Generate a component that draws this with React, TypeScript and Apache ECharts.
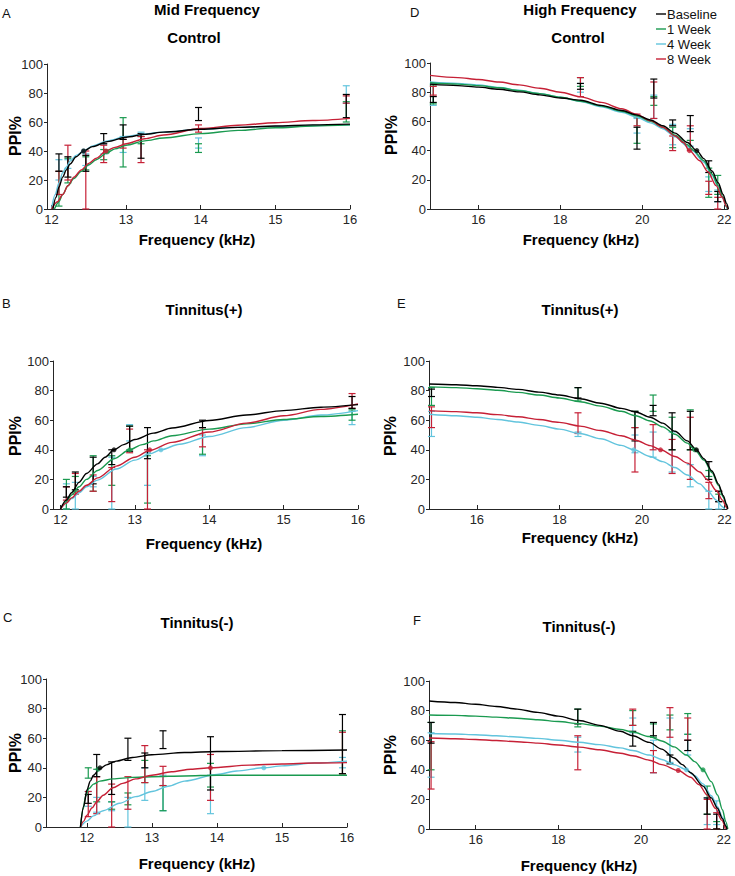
import React, { useEffect, useRef } from "react";
import * as echarts from "echarts";

// ---------- Data ----------
const seriesNames = ["Baseline", "1 Week", "4 Week", "8 Week"];
const midTicks = [12, 13, 14, 15, 16];
const highTicks = [16, 18, 20, 22];

// Panel A: Mid Frequency, Control
const A_freq = [12.1, 12.22, 12.46, 12.7, 12.96, 13.2, 13.97, 15.95];
const A_base_bars = [[26, 38], [22, 36], [26, 37], [45, 52], [48, 58], [35, 52], [61, 70], [63, 79]];
const A_w1_bars = [[2, 26], [18, 35], [27, 36], [34, 41], [29, 63], [45, 50], [39, 45], [60, 74]];
const A_w4_bars = [[20, 34], [28, 34], [30, 38], [38, 45], [39, 50], [50, 53], [42, 49], [73, 85]];
const A_w8_bars = [[10, 26], [20, 44], [0, 40], [32, 44], [42, 48], [32, 50], [53, 58], [73, 78]];
const A_base_curve = [[12.02, 0], [12.06, 8], [12.1, 15], [12.15, 22], [12.2, 27], [12.25, 31], [12.33, 36], [12.43, 40], [12.55, 43], [12.75, 46.5], [13, 49.5], [13.25, 51.5], [13.5, 53], [14, 55], [14.5, 56.3], [15, 57.2], [15.5, 58], [16, 58.5]];
const A_w1_curve = [[12.04, 0], [12.1, 5], [12.15, 10], [12.22, 16], [12.3, 21], [12.4, 26], [12.5, 30.5], [12.6, 34], [12.75, 39], [12.85, 41.5], [13, 44], [13.25, 47], [13.5, 49], [14, 52], [14.5, 54.2], [15, 56], [15.5, 57.2], [16, 58]];
const A_w4_curve = [[12.0, 0], [12.05, 10], [12.1, 18], [12.15, 25], [12.2, 29], [12.25, 33], [12.33, 37], [12.43, 40], [12.55, 43.5], [12.75, 47], [13, 50], [13.2, 51.5], [13.5, 53], [14, 55], [14.5, 56.3], [15, 57], [15.5, 57.6], [16, 58]];
const A_w8_curve = [[12.0, 0], [12.08, 5], [12.15, 10], [12.22, 16], [12.3, 22], [12.4, 27], [12.5, 31.5], [12.6, 35], [12.73, 40], [12.85, 42.5], [13, 45], [13.25, 48.5], [13.5, 51], [14, 55.5], [14.5, 57.8], [15, 59.5], [15.5, 61], [16, 62.5]];
const A_dots = [[12.43, 40], [12.75, 39.5], [12.43, 40], [12.73, 40]];

// Panel B: Mid Frequency, Tinnitus(+)
const B_freq = [12.08, 12.2, 12.44, 12.69, 12.93, 13.17, 13.91, 15.92];
const B_base_bars = [[8, 15], [13, 25], [17, 35], [30, 40], [39, 56], [34, 55], [55, 60], [68, 76]];
const B_w1_bars = [[0, 20], [12, 22], [12, 36], [16, 36], [40, 56], [4, 36], [37, 55], [60, 67]];
const B_w4_bars = [[0, 17], [0, 18], [15, 22], [0, 35], [46, 57], [16, 38], [36, 50], [57, 66]];
const B_w8_bars = [[6, 15], [10, 24], [12, 23], [5, 28], [38, 54], [0, 40], [42, 55], [68, 78]];
const B_base_curve = [[12.0, 0], [12.08, 6], [12.15, 11], [12.25, 18], [12.35, 24], [12.5, 30.5], [12.6, 35], [12.72, 40], [12.85, 43.5], [13, 47], [13.25, 51.3], [13.5, 54.7], [14, 59.8], [14.5, 63.5], [15, 66.5], [15.5, 68.8], [16, 70.5]];
const B_w1_curve = [[12.0, 0], [12.08, 5], [12.15, 9.5], [12.25, 15], [12.35, 20], [12.5, 26], [12.72, 34], [12.93, 40], [13.1, 43.5], [13.25, 46], [13.5, 49.5], [14, 54], [14.5, 57.5], [15, 60.5], [15.5, 62.5], [16, 64]];
const B_w4_curve = [[12.0, 0], [12.08, 4], [12.15, 7], [12.25, 11], [12.35, 15], [12.5, 19.5], [12.75, 27], [13, 33], [13.2, 37.3], [13.35, 40], [13.6, 43.8], [14, 49], [14.5, 55], [15, 60], [15.5, 63.5], [16, 66.5]];
const B_w8_curve = [[12.0, 0], [12.08, 4], [12.15, 7.5], [12.25, 12], [12.35, 16], [12.5, 21], [12.75, 29], [13, 35], [13.2, 39.5], [13.5, 45], [14, 52], [14.5, 58], [15, 63], [15.5, 67.3], [16, 71]];
const B_dots = [[12.72, 40], [12.93, 40], [13.35, 40], [13.2, 40]];

// Panel C: Mid Frequency, Tinnitus(-)
const C_freq = [12.02, 12.15, 12.38, 12.63, 12.89, 13.17, 13.9, 15.93];
const C_base_bars = [[16, 22], [34, 49], [22, 44], [45, 60], [40, 50], [53, 65], [25, 61], [36, 76]];
const C_w1_bars = [[33, 40], [17, 39], [12, 17], [15, 23], [30, 45], [11, 28], [27, 43], [36, 65]];
const C_w4_bars = [[14, 24], [10, 20], [11, 17], [0, 20], [18, 40], [11, 35], [9, 35], [40, 47]];
const C_w8_bars = [[7, 24], [9, 34], [0, 29], [12, 34], [30, 55], [28, 41], [18, 49], [36, 64]];
const C_base_curve = [[11.9, 0], [11.95, 14], [12.0, 25], [12.05, 31], [12.1, 35], [12.2, 39.5], [12.3, 42], [12.45, 44.5], [12.7, 47], [13, 48.8], [13.5, 50.3], [14, 51], [15, 51.6], [16, 52]];
const C_w1_curve = [[11.9, 0], [11.94, 12], [11.98, 21], [12.03, 26], [12.1, 29], [12.2, 31], [12.4, 32.5], [12.7, 33.5], [13, 34], [13.5, 34.5], [14, 35], [15, 35], [16, 35]];
const C_w4_curve = [[11.9, 0], [12.0, 4], [12.1, 7.5], [12.25, 11], [12.5, 16], [12.75, 20.5], [13, 24], [13.25, 27.5], [13.5, 31], [14, 35.5], [14.3, 37.8], [14.72, 40], [15, 41.3], [15.5, 43.2], [16, 44.5]];
const C_w8_curve = [[11.9, 0], [11.95, 4], [12.0, 8], [12.08, 13], [12.15, 17], [12.25, 21.5], [12.4, 26.5], [12.55, 29.5], [12.75, 32.5], [13, 35], [13.3, 37.3], [13.6, 39], [13.9, 40], [14.5, 41.8], [15, 42.6], [15.5, 43.2], [16, 43.5]];
const C_dots = [[12.2, 40], [12.17, 39], [14.72, 40], [13.9, 40]];

// Panel D: High Frequency, Control
const D_freq = [14.9, 18.49, 19.87, 20.28, 20.74, 21.17, 21.62, 21.84];
const D_base_bars = [[73, 77], [82, 86], [41, 56], [76, 89], [57, 61], [53, 64], [25, 33], [5, 12]];
const D_w1_bars = [[72, 85], [84, 90], [45, 63], [71, 77], [42, 56], [41, 47], [8, 28], [10, 23]];
const D_w4_bars = [[71, 86], [80, 86], [52, 62], [62, 78], [44, 58], [43, 55], [12, 22], [5, 13]];
const D_w8_bars = [[78, 84], [77, 90], [57, 65], [62, 87], [40, 50], [40, 57], [10, 19], [0, 8]];
const D_base_curve = [[14.82, 85.5], [15.5, 84.5], [16, 83.5], [16.5, 82], [17, 80.2], [17.5, 78.2], [18, 76], [18.5, 74.5], [19, 71], [19.5, 67.5], [19.85, 64.5], [20.2, 61], [20.5, 57], [20.8, 52], [21.1, 45.5], [21.33, 40], [21.5, 34.5], [21.7, 26], [21.85, 18], [21.97, 10], [22.05, 4], [22.1, 0]];
const D_w1_curve = [[14.82, 86.5], [15.5, 85.5], [16, 84.5], [16.5, 83], [17, 81], [17.5, 79], [18, 76.5], [18.5, 73.8], [19, 70.5], [19.5, 67], [19.85, 64], [20.2, 60], [20.5, 56], [20.8, 50.5], [21.1, 44], [21.25, 40], [21.5, 33], [21.7, 24], [21.85, 16], [21.97, 8], [22.05, 2], [22.08, 0]];
const D_w4_curve = [[14.82, 87], [15.5, 86], [16, 85], [16.5, 83.3], [17, 81.3], [17.5, 79], [18, 76.5], [18.5, 73.6], [19, 70], [19.5, 66.3], [19.85, 63], [20.2, 59], [20.5, 55], [20.8, 49.5], [21.1, 43], [21.22, 40], [21.5, 32], [21.7, 23], [21.85, 15], [21.97, 7], [22.05, 1.5], [22.07, 0]];
const D_w8_curve = [[14.82, 91.5], [15.5, 90], [16, 88.7], [16.5, 87], [17, 85], [17.5, 82.7], [18, 80], [18.5, 76.8], [19, 73], [19.5, 68.7], [19.85, 65], [20.2, 60.5], [20.5, 56], [20.8, 50], [21.0, 45.5], [21.15, 40], [21.4, 33], [21.6, 25.5], [21.8, 16], [21.95, 8], [22.05, 2], [22.09, 0]];
const D_dots = [[21.33, 40], null, null, [21.15, 40]];

// Panel E: High Frequency, Tinnitus(+)
const E_freq = [14.9, 18.45, 19.83, 20.27, 20.73, 21.17, 21.62, 21.86];
const E_base_bars = [[76, 81], [75, 82], [46, 66], [63, 70], [40, 65], [40, 66], [20, 32], [5, 12]];
const E_w1_bars = [[70, 82], [73, 82], [55, 66], [66, 77], [40, 62], [40, 67], [22, 26], [5, 10]];
const E_w4_bars = [[49, 66], [49, 52], [38, 50], [35, 52], [25, 52], [15, 30], [0, 12], [0, 5]];
const E_w8_bars = [[55, 69], [51, 65], [25, 55], [40, 57], [24, 47], [20, 62], [7, 18], [5, 12]];
const E_base_curve = [[14.84, 84.5], [15.5, 84], [16, 83.3], [16.5, 82.2], [17, 80.8], [17.5, 79], [18, 77], [18.5, 74.5], [19, 71.5], [19.5, 68], [19.85, 65.5], [20.2, 62], [20.5, 58], [20.8, 52.5], [21.1, 46], [21.32, 40], [21.5, 34], [21.7, 25.5], [21.85, 17], [21.97, 9], [22.05, 3], [22.08, 0]];
const E_w1_curve = [[14.84, 82.5], [15.5, 82], [16, 81.3], [16.5, 80.2], [17, 78.8], [17.5, 77], [18, 75], [18.5, 72.5], [19, 69.5], [19.5, 66], [19.85, 63], [20.2, 59.5], [20.5, 55.5], [20.8, 50.5], [21.1, 44.5], [21.28, 40], [21.5, 33], [21.7, 24.5], [21.85, 16], [21.97, 8], [22.05, 2], [22.07, 0]];
const E_w4_curve = [[14.84, 64], [15.5, 63], [16, 62], [16.5, 60.5], [17, 58.8], [17.5, 56.5], [18, 54], [18.5, 51], [19, 47.5], [19.5, 43], [19.8, 40], [20.2, 35.5], [20.5, 32], [20.8, 28], [21.1, 23], [21.4, 17], [21.6, 12], [21.8, 6], [21.95, 1.5], [22.0, 0]];
const E_w8_curve = [[14.84, 66.5], [15.5, 65.8], [16, 65], [16.5, 63.8], [17, 62.3], [17.5, 60.5], [18, 58.5], [18.5, 56], [19, 53], [19.5, 49.5], [19.85, 46.5], [20.2, 42.8], [20.45, 40], [20.8, 35.5], [21.1, 31], [21.4, 25], [21.6, 19.5], [21.8, 12.5], [21.95, 6], [22.05, 1], [22.07, 0]];
const E_dots = [[21.32, 40], [21.28, 40], [19.8, 40], [20.45, 40]];

// Panel F: High Frequency, Tinnitus(-)
const F_freq = [14.92, 18.47, 19.8, 20.3, 20.7, 21.13, 21.6, 21.83];
const F_base_bars = [[58, 72], [71, 81], [56, 66], [63, 72], [44, 50], [53, 60], [10, 21], [0, 10]];
const F_w1_bars = [[40, 72], [69, 81], [70, 80], [62, 71], [67, 77], [64, 78], [10, 29], [0, 5]];
const F_w4_bars = [[35, 65], [52, 62], [65, 75], [38, 60], [45, 75], [50, 64], [3, 21], [3, 19]];
const F_w8_bars = [[27, 59], [40, 63], [70, 81], [38, 53], [62, 82], [60, 75], [0, 20], [0, 11]];
const F_base_curve = [[14.87, 86.5], [15.5, 85.5], [16, 84.3], [16.5, 82.8], [17, 81], [17.5, 78.8], [18, 76.3], [18.5, 73.3], [19, 70], [19.5, 66], [19.8, 63], [20.2, 58.5], [20.5, 54], [20.8, 48], [21, 43.5], [21.2, 38], [21.5, 29], [21.7, 21], [21.85, 14], [21.97, 7], [22.05, 2], [22.08, 0]];
const F_w1_curve = [[14.87, 77], [15.5, 76.8], [16, 76.3], [16.5, 75.6], [17, 74.8], [17.5, 73.8], [18, 72.6], [18.5, 71.2], [19, 69.5], [19.5, 67.3], [19.8, 65.5], [20.2, 62.5], [20.5, 59.5], [20.8, 55.5], [21.1, 50], [21.3, 45.5], [21.5, 40], [21.7, 32], [21.85, 23], [21.97, 13], [22.05, 5], [22.1, 0]];
const F_w4_curve = [[14.87, 64.5], [15.5, 64.2], [16, 63.7], [16.5, 63], [17, 62.2], [17.5, 61.2], [18, 60], [18.5, 58.6], [19, 57], [19.5, 54.8], [19.8, 53], [20.2, 50], [20.5, 47], [20.8, 43.5], [21.1, 40], [21.3, 36], [21.5, 30.5], [21.7, 22.5], [21.85, 15], [21.97, 8], [22.05, 2], [22.08, 0]];
const F_w8_curve = [[14.87, 61.5], [15.5, 61], [16, 60.5], [16.5, 59.8], [17, 59], [17.5, 58], [18, 56.8], [18.5, 55.3], [19, 53.5], [19.5, 51.2], [19.8, 49.5], [20.2, 46.5], [20.5, 43.5], [20.9, 39.5], [21.2, 35], [21.4, 30], [21.6, 23], [21.8, 14], [21.95, 6], [22.04, 0]];
const F_dots = [null, [21.5, 40], [21.1, 40], [20.9, 39.5]];

// ---------- Layout / styles ----------
const COLORS = ["#000000", "#1a9a50", "#62c4dd", "#c62036"];
const FONT = "'Liberation Sans', Arial, Helvetica, sans-serif";
const AXIS_COLOR = "#262626";

const panels = [
  { letter: "A", title: "Control", grid: { left: 47, top: 64, width: 303, height: 145 }, xMin: 11.94, xMax: 16, ticks: midTicks,
    freq: A_freq, bars: [A_base_bars, A_w1_bars, A_w4_bars, A_w8_bars], curves: [A_base_curve, A_w1_curve, A_w4_curve, A_w8_curve], dots: A_dots,
    letterPos: [2, 13], titlePos: [194, 37], xNamePos: [197, 239], yNamePos: [15, 136] },
  { letter: "B", title: "Tinnitus(+)", grid: { left: 53, top: 361, width: 305, height: 148 }, xMin: 11.9, xMax: 16, ticks: midTicks,
    freq: B_freq, bars: [B_base_bars, B_w1_bars, B_w4_bars, B_w8_bars], curves: [B_base_curve, B_w1_curve, B_w4_curve, B_w8_curve], dots: B_dots,
    letterPos: [2, 303], titlePos: [204, 309], xNamePos: [204, 543], yNamePos: [15, 436] },
  { letter: "C", title: "Tinnitus(-)", grid: { left: 46, top: 679, width: 301, height: 148 }, xMin: 11.37, xMax: 16, ticks: midTicks,
    freq: C_freq, bars: [C_base_bars, C_w1_bars, C_w4_bars, C_w8_bars], curves: [C_base_curve, C_w1_curve, C_w4_curve, C_w8_curve], dots: C_dots,
    letterPos: [3, 617], titlePos: [197, 622], xNamePos: [197, 863], yNamePos: [15, 753] },
  { letter: "D", title: "Control", grid: { left: 430, top: 63, width: 298, height: 146 }, xMin: 14.82, xMax: 22.09, ticks: highTicks,
    freq: D_freq, bars: [D_base_bars, D_w1_bars, D_w4_bars, D_w8_bars], curves: [D_base_curve, D_w1_curve, D_w4_curve, D_w8_curve], dots: D_dots,
    letterPos: [410, 12], titlePos: [578, 37], xNamePos: [581, 239], yNamePos: [391, 135] },
  { letter: "E", title: "Tinnitus(+)", grid: { left: 429, top: 361, width: 298, height: 148 }, xMin: 14.84, xMax: 22.06, ticks: highTicks,
    freq: E_freq, bars: [E_base_bars, E_w1_bars, E_w4_bars, E_w8_bars], curves: [E_base_curve, E_w1_curve, E_w4_curve, E_w8_curve], dots: E_dots,
    letterPos: [397, 303], titlePos: [580, 309], xNamePos: [580, 537], yNamePos: [390, 436] },
  { letter: "F", title: "Tinnitus(-)", grid: { left: 429, top: 681, width: 298, height: 148 }, xMin: 14.87, xMax: 22.08, ticks: highTicks,
    freq: F_freq, bars: [F_base_bars, F_w1_bars, F_w4_bars, F_w8_bars], curves: [F_base_curve, F_w1_curve, F_w4_curve, F_w8_curve], dots: F_dots,
    letterPos: [413, 620], titlePos: [579, 626], xNamePos: [579, 865], yNamePos: [390, 755] },
];

function buildOption() {
  const grids: any[] = [];
  const xAxes: any[] = [];
  const yAxes: any[] = [];
  const series: any[] = [];
  const graphics: any[] = [];

  panels.forEach((p, pi) => {
    grids.push({ ...p.grid, containLabel: false });
    xAxes.push({
      type: "value", gridIndex: pi, min: p.xMin, max: p.xMax,
      axisLine: { show: true, lineStyle: { color: AXIS_COLOR, width: 1 } },
      axisTick: { show: true, inside: true, length: 4, lineStyle: { color: AXIS_COLOR }, customValues: p.ticks },
      axisLabel: { show: true, customValues: p.ticks, color: AXIS_COLOR, fontSize: 13, fontFamily: FONT, margin: 4 },
      splitLine: { show: false },
    });
    yAxes.push({
      type: "value", gridIndex: pi, min: 0, max: 100, interval: 20,
      axisLine: { show: true, lineStyle: { color: AXIS_COLOR, width: 1 } },
      axisTick: { show: true, inside: false, length: 3, lineStyle: { color: AXIS_COLOR } },
      axisLabel: { show: true, color: AXIS_COLOR, fontSize: 13, fontFamily: FONT, margin: 4 },
      splitLine: { show: false },
    });

    const order = [2, 1, 3, 0];
    order.forEach((si) => {
      const color = COLORS[si];
      series.push({
        type: "line", name: seriesNames[si], xAxisIndex: pi, yAxisIndex: pi,
        data: p.curves[si], showSymbol: false, smooth: 0.3, smoothMonotone: "x",
        lineStyle: { color, width: 1.4 }, z: 3, silent: true,
      });
      const barData = p.freq.map((f, i) => [f, p.bars[si][i][0], p.bars[si][i][1]]);
      series.push({
        type: "custom", xAxisIndex: pi, yAxisIndex: pi, coordinateSystem: "cartesian2d",
        encode: { x: 0, y: [1, 2] }, data: barData, z: 2, silent: true, clip: false,
        renderItem: (params: any, api: any) => {
          const x = api.value(0), lo = api.value(1), hi = api.value(2);
          const a = api.coord([x, lo]);
          const b = api.coord([x, hi]);
          const w = 3.5;
          const st = { stroke: color, lineWidth: 1.2, fill: "none" };
          return {
            type: "group",
            children: [
              { type: "line", shape: { x1: a[0], y1: a[1], x2: b[0], y2: b[1] }, style: st },
              { type: "line", shape: { x1: a[0] - w, y1: a[1], x2: a[0] + w, y2: a[1] }, style: st },
              { type: "line", shape: { x1: b[0] - w, y1: b[1], x2: b[0] + w, y2: b[1] }, style: st },
            ],
          };
        },
      });
      const d = p.dots[si];
      if (d) {
        series.push({
          type: "scatter", xAxisIndex: pi, yAxisIndex: pi, data: [d], symbol: "circle", symbolSize: 5,
          itemStyle: { color }, z: 4, silent: true,
        });
      }
    });

    const boldFont = `bold 15px ${FONT}`;
    graphics.push({ type: "text", x: p.letterPos[0], y: p.letterPos[1], style: { text: p.letter, font: `13px ${FONT}`, fill: "#111", textAlign: "left", textVerticalAlign: "middle" } });
    graphics.push({ type: "text", x: p.titlePos[0], y: p.titlePos[1], style: { text: p.title, font: boldFont, fill: "#000", textAlign: "center", textVerticalAlign: "middle" } });
    graphics.push({ type: "text", x: p.xNamePos[0], y: p.xNamePos[1], style: { text: "Frequency (kHz)", font: boldFont, fill: "#000", textAlign: "center", textVerticalAlign: "middle" } });
    graphics.push({ type: "text", x: p.yNamePos[0], y: p.yNamePos[1], rotation: Math.PI / 2, style: { text: "PPI%", font: `bold 16px ${FONT}`, fill: "#000", textAlign: "center", textVerticalAlign: "middle" } });
  });

  graphics.push({ type: "text", x: 207, y: 9, style: { text: "Mid Frequency", font: `bold 15px ${FONT}`, fill: "#000", textAlign: "center", textVerticalAlign: "middle" } });
  graphics.push({ type: "text", x: 580, y: 9, style: { text: "High Frequency", font: `bold 15px ${FONT}`, fill: "#000", textAlign: "center", textVerticalAlign: "middle" } });

  const legendY = [14, 29, 44, 59];
  seriesNames.forEach((name, i) => {
    graphics.push({ type: "line", shape: { x1: 656, y1: legendY[i], x2: 666, y2: legendY[i] }, style: { stroke: COLORS[i], lineWidth: 1.4 } });
    graphics.push({ type: "text", x: 667, y: legendY[i], style: { text: name, font: `13px ${FONT}`, lineHeight: 13, fill: "#111", textAlign: "left", textVerticalAlign: "middle" } });
  });

  return {
    animation: false,
    backgroundColor: "#ffffff",
    grid: grids,
    xAxis: xAxes,
    yAxis: yAxes,
    series,
    graphic: graphics,
  };
}

export default function App() {
  const ref = useRef<HTMLDivElement>(null);
  useEffect(() => {
    if (!ref.current) return;
    const chart = echarts.init(ref.current, undefined, { renderer: "svg" });
    chart.setOption(buildOption() as any);
    return () => chart.dispose();
  }, []);
  return <div ref={ref} style={{ position: "absolute", left: 0, top: 0, width: 735, height: 876, background: "#fff" }} />;
}
